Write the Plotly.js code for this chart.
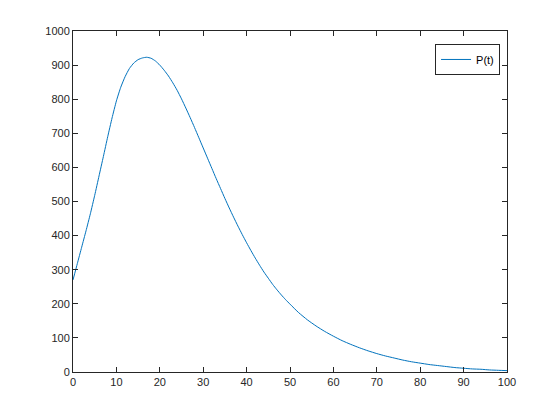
<!DOCTYPE html>
<html>
<head>
<meta charset="utf-8">
<script src="https://cdn.plot.ly/plotly-3.0.1.min.js"></script>
<style>html,body{margin:0;padding:0;background:#fff;}#chart{width:560px;height:420px;}</style>
</head>
<body>
<div id="chart"></div>
<script>
const tValues = [0,1,2,3,4,5,6,7,8,9,10,11,12,13,14,15,16,17,18,19,20,21,22,23,24,25,26,27,28,29,30,31,32,33,34,35,36,37,38,39,40,41,42,43,44,45,46,47,48,49,50,52,54,56,58,60,62,64,66,68,70,72,74,76,78,80,82,84,86,88,90,92,94,96,98,100];
const pValues = [270,318,366,414,464,518,575,632,690,745,795,835,866,890,906,916,921,923,920,912,900,885,868,848,826,801,774,746,717,687,657,627,597,567,538,509,481,454,428,403,379,356,334,313,293,275,257,241,226,212,199,174,153,135,119,105,92,81,71,62,54,47,41,35,30,26,22,19,16,13,11,9,8,6,5,4];
const xTicks = [0,10,20,30,40,50,60,70,80,90,100];
const yTicks = [0,100,200,300,400,500,600,700,800,900,1000];
const seriesName = 'P(t)';

const axisCommon = {
  showgrid: false, zeroline: false, showline: true, mirror: 'ticks',
  linecolor: '#262626', linewidth: 1, ticks: 'inside', ticklen: 5,
  tickcolor: '#262626', tickfont: {family: 'Liberation Sans, Arial, sans-serif', size: 11, color: '#262626'}
};

Plotly.newPlot('chart', [{
  x: tValues, y: pValues, type: 'scatter', mode: 'lines', name: seriesName,
  line: {color: '#0072BD', width: 1, shape: 'spline', smoothing: 0.5}
}], {
  width: 560, height: 420,
  margin: {l: 73, r: 53, t: 31, b: 48},
  paper_bgcolor: '#ffffff', plot_bgcolor: '#ffffff',
  showlegend: true,
  legend: {x: 0.984, y: 0.962, xanchor: 'right', yanchor: 'top', bordercolor: '#262626', borderwidth: 1,
           bgcolor: '#ffffff', font: {family: 'Liberation Sans, Arial, sans-serif', size: 11, color: '#000'}},
  xaxis: Object.assign({}, axisCommon, {range: [0, 100], tickvals: xTicks, ticktext: xTicks.map(String)}),
  yaxis: Object.assign({}, axisCommon, {range: [0, 1000], tickvals: yTicks, ticktext: yTicks.map(String)})
}, {displayModeBar: false, staticPlot: true});
</script>
</body>
</html>
